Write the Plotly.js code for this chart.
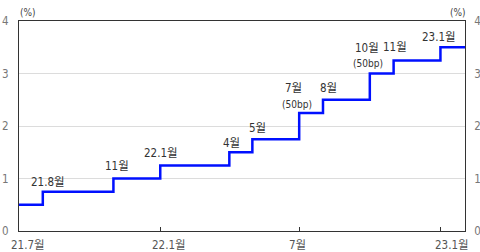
<!DOCTYPE html>
<html><head><meta charset="utf-8">
<script src="https://cdn.plot.ly/plotly-3.0.1.min.js"></script>
<style>body{margin:0;background:#fff}#c{width:480px;height:252px}</style>
</head><body><div id="c"></div>
<script>
// Base rate step dates and values (%)
const dates = ['2021-07-01','2021-08-01','2021-11-01','2022-01-01','2022-04-01','2022-05-01','2022-07-01','2022-08-01','2022-10-01','2022-11-01','2023-01-01','2023-02-03'];
const rates = [0.5,0.75,1.0,1.25,1.5,1.75,2.25,2.5,3.0,3.25,3.5,3.5];
const tickDates = ['2021-07-01','2022-01-01','2022-07-01','2023-01-01'];
const tickLabels = ['21.7월','22.1월','7월','23.1월'];
const tickShift = [9,9,-2,12];
const yTicks = [0,1,2,3,4];
// labels attached to step index
const labelIdx = [1,2,3,4,5,6,6,7,8,8,9,10];
const labelText = ['21.8월','11월','22.1월','4월','5월','7월','(50bp)','8월','10월','(50bp)','11월','23.1월'];
const labelShift = [[5,10],[4,13],[1,12],[2,9],[5,11],[-6,25],[-2,8],[6,12],[-3,26],[-2,10],[1,13],[-1,10]];

const FONT = 'DejaVu Sans Condensed, Noto Sans CJK KR, sans-serif';
const ann = labelIdx.map((k,i)=>({
  x: dates[k], y: rates[k], xref:'x', yref:'y', text: labelText[i],
  showarrow:false, xanchor:'center', yanchor:'middle',
  xshift: labelShift[i][0], yshift: labelShift[i][1],
  font:{family:FONT, size: labelText[i]==='(50bp)'?10:11.5, color:'#333'}
}));
tickDates.forEach((d,i)=>ann.push({x:d, y:0, xref:'x', yref:'paper', yanchor:'top', xanchor:'center',
  yshift:-5, xshift:tickShift[i], text:tickLabels[i], showarrow:false,
  font:{family:FONT, size:11.5, color:'#555'}}));
ann.push({xref:'paper',yref:'paper',x:0.02,y:1,yanchor:'bottom',xanchor:'center',yshift:1,text:'(%)',showarrow:false,font:{family:FONT,size:10,color:'#444'}});
ann.push({xref:'paper',yref:'paper',x:0.985,y:1,yanchor:'bottom',xanchor:'center',yshift:1,text:'(%)',showarrow:false,font:{family:FONT,size:10,color:'#444'}});

const traces = [
  {x:dates, y:rates, type:'scatter', mode:'lines', line:{shape:'hv', color:'#0010ff', width:2.5}, hoverinfo:'skip', showlegend:false},
  {x:dates, y:rates, type:'scatter', mode:'lines', yaxis:'y2', line:{width:0}, opacity:0, hoverinfo:'skip', showlegend:false}
];
const layout = {
  width:480, height:252,
  margin:{l:19, r:15, t:21, b:21},
  paper_bgcolor:'#fff', plot_bgcolor:'#fff',
  showlegend:false,
  xaxis:{type:'date', range:['2021-07-01','2023-02-02'], tickvals:tickDates, showticklabels:false,
    ticks:'inside', ticklen:4, tickcolor:'#333', showgrid:false, zeroline:false,
    showline:true, linecolor:'#333', linewidth:1, mirror:true},
  yaxis:{range:[0,4], tickvals:yTicks, showgrid:true, gridcolor:'#dcdcdc', gridwidth:1, zeroline:false,
    showline:true, linecolor:'#333', linewidth:1, ticks:'', ticklabelstandoff:7,
    tickfont:{family:FONT, size:11.5, color:'#777'}},
  yaxis2:{range:[0,4], tickvals:yTicks, overlaying:'y', side:'right', showgrid:false, zeroline:false,
    showline:true, linecolor:'#333', linewidth:1, ticks:'', ticklabelstandoff:6,
    tickfont:{family:FONT, size:11.5, color:'#777'}},
  annotations: ann
};
Plotly.newPlot('c', traces, layout, {staticPlot:true, displayModeBar:false});
</script></body></html>
